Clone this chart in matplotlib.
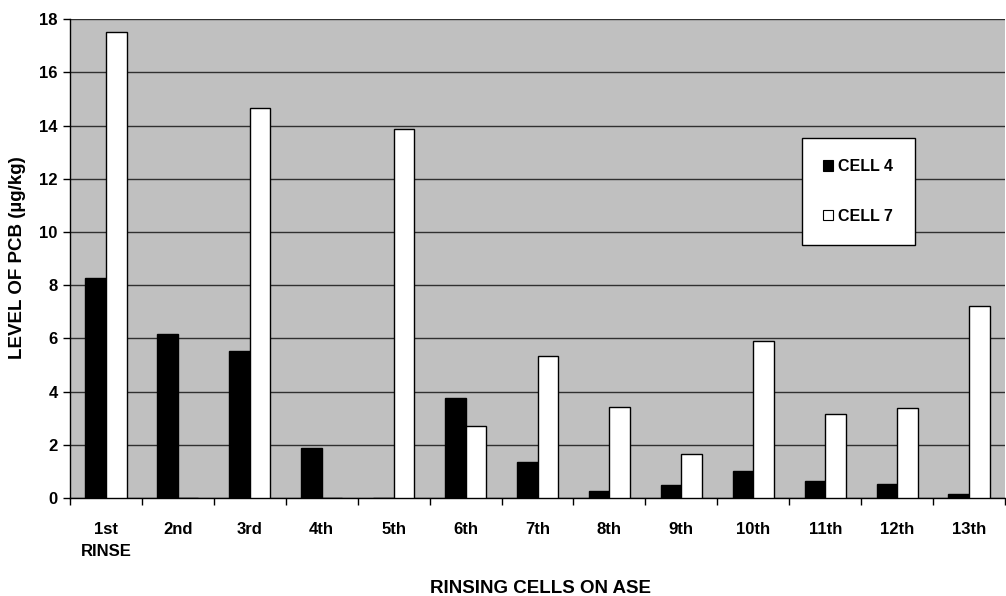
import numpy as np
import matplotlib
matplotlib.use("Agg")
import matplotlib.pyplot as plt
from matplotlib.patches import Patch

# rinse steps on the ASE
rinses = ["1st\nRINSE", "2nd", "3rd", "4th", "5th", "6th", "7th",
          "8th", "9th", "10th", "11th", "12th", "13th"]
cell4 = [8.28, 6.15, 5.53, 1.87, 0.0, 3.75, 1.34, 0.27, 0.49, 1.03, 0.64, 0.54, 0.14]
cell7 = [17.53, 0.0, 14.65, 0.0, 13.85, 2.72, 5.34, 3.43, 1.64, 5.91, 3.16, 3.38, 7.2]

plt.rcParams['font.family'] = ['Liberation Sans', 'DejaVu Sans']
plt.rcParams['font.weight'] = 'bold'

fig = plt.figure(figsize=(10.06, 5.96), dpi=100)
ax = fig.add_axes([0.0696, 0.1644, 0.9294, 0.8036])
ax.set_facecolor('#c0c0c0')

x = np.arange(len(rinses))
w = 1 / 3.5

ax.bar(x - w, cell4, w, align='edge', color='black', edgecolor='black', linewidth=1, zorder=3)
ax.bar(x, cell7, w, align='edge', color='white', edgecolor='black', linewidth=1, zorder=3)

ax.set_ylim(0, 18)
ax.set_yticks(range(0, 19, 2))
ax.set_xlim(-0.5, len(rinses) - 0.5)

# ticks between categories, labels at the centres
ax.set_xticks(np.arange(len(rinses) + 1) - 0.5)
ax.set_xticklabels([])
ax.set_xticks(x, minor=True)
ax.set_xticklabels(rinses, minor=True, fontsize=12, fontweight='bold', linespacing=1.64)
ax.tick_params(axis='x', which='minor', length=0, pad=17)
ax.tick_params(axis='x', which='major', length=5, direction='out', width=1)
ax.tick_params(axis='y', length=5, direction='out', width=1, labelsize=12, pad=4)
for lab in ax.get_yticklabels():
    lab.set_fontweight('bold')
for lab in ax.get_xticklabels(minor=True):
    lab.set_verticalalignment('top')

ax.yaxis.grid(True, color='#303030', linewidth=1)
ax.set_axisbelow(True)

for s in ['top', 'right']:
    ax.spines[s].set_visible(False)
ax.spines['left'].set_linewidth(1)
ax.spines['bottom'].set_linewidth(1)

fig.text(18 / 1006, 0.567, 'LEVEL OF PCB (µg/kg)', rotation=90, ha='center', va='center',
         fontsize=13.5, fontweight='bold')
fig.text(0.537, 0.0134, 'RINSING CELLS ON ASE', ha='center', va='center',
         fontsize=13.5, fontweight='bold')

handles = [Patch(facecolor='black', edgecolor='black', linewidth=0.8),
           Patch(facecolor='white', edgecolor='black', linewidth=0.8)]
leg = ax.legend(handles, ['CELL 4', 'CELL 7'], loc='center',
                bbox_to_anchor=(0.843, 0.64), frameon=True,
                fancybox=False, handlelength=0.65, handleheight=0.65,
                handletextpad=0.3, borderpad=1.35, labelspacing=2.15,
                prop={'weight': 'bold', 'size': 11.5})
leg.get_frame().set_edgecolor('black')
leg.get_frame().set_linewidth(1)
leg.get_frame().set_facecolor('white')
leg.get_frame().set_alpha(1)

fig.savefig('out.png', dpi=100)
